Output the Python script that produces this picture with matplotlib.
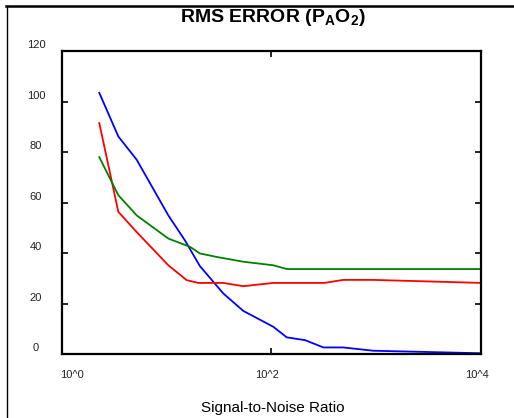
"""RMS error of the PAO2 estimate against signal-to-noise ratio."""

import matplotlib

matplotlib.use("Agg")
import matplotlib.pyplot as plt
from matplotlib.lines import Line2D
from matplotlib.transforms import offset_copy

plt.rcParams["font.family"] = ["Liberation Sans", "DejaVu Sans"]
plt.rcParams["mathtext.fontset"] = "custom"
plt.rcParams["mathtext.rm"] = "Liberation Sans"
plt.rcParams["mathtext.bf"] = "Liberation Sans:bold"

# values
blue_snr = [2.27, 3.45, 5.16, 10.35, 14.9, 20.7, 34.7, 53.8, 104, 140, 209, 313, 485, 933, 10000]
blue_err = [103.6, 86.3, 77.1, 55.0, 45.1, 34.9, 24.0, 17.1, 10.8, 6.6, 5.5, 2.6, 2.6, 1.3, 0.3]

red_snr = [2.27, 3.45, 5.16, 10.35, 15.5, 20.0, 34.7, 53.8, 104, 320, 485, 933, 10000]
red_err = [91.6, 56.4, 48.4, 35.2, 29.3, 28.2, 28.2, 26.9, 28.2, 28.2, 29.4, 29.4, 28.2]

green_snr = [2.27, 3.45, 5.16, 10.35, 16.7, 20.7, 30.0, 53.8, 104, 140, 10000]
green_err = [78.1, 63.0, 55.0, 45.8, 42.5, 39.9, 38.5, 36.6, 35.2, 33.7, 33.7]

x_ticks = [1, 100, 10000]
x_tick_labels = ["10^0", "10^2", "10^4"]
y_ticks = [0, 20, 40, 60, 80, 100, 120]

fig = plt.figure(figsize=(5.14, 4.18), dpi=100)
ax = fig.add_axes([0.1206, 0.1531, 0.8152, 0.7237])

ax.plot(blue_snr, blue_err, color="#0000ff", linewidth=1.3)
ax.plot(red_snr, red_err, color="#ff0000", linewidth=1.3)
ax.plot(green_snr, green_err, color="#008000", linewidth=1.3)

ax.set_xscale("log")
ax.set_xlim(1, 10000)
ax.set_ylim(0, 120)
ax.minorticks_off()

for spine in ax.spines.values():
    spine.set_linewidth(1.6)

ax.set_xticks(x_ticks)
ax.set_yticks(y_ticks)
ax.set_xticklabels([])
ax.set_yticklabels([])
ax.tick_params(direction="in", length=4, width=1.2,
               top=True, right=True, bottom=True, left=True)

# tick labels sit a little off their ticks in the original
x_nudge = [10, -4, -4]
for value, label, dx in zip(x_ticks, x_tick_labels, x_nudge):
    trans = offset_copy(ax.get_xaxis_transform(), fig=fig, x=dx, y=-21, units="dots")
    ax.text(value, 0, label, transform=trans, ha="center", va="center",
            fontsize=8, color="#222222")

for value in y_ticks:
    trans = offset_copy(ax.get_yaxis_transform(), fig=fig, x=-26, y=6, units="dots")
    ax.text(0, value, str(value), transform=trans, ha="center", va="center",
            fontsize=8, color="#222222")

fig.text(273 / 514, 1 - 18 / 418, r"RMS ERROR (P$_{\mathbf{A}}$O$_{\mathbf{2}}$)",
         ha="center", va="center", fontsize=14, fontweight="bold")
fig.text(273 / 514, 1 - 408 / 418, "Signal-to-Noise Ratio",
         ha="center", va="center", fontsize=11)

# page frame lines
fig.add_artist(Line2D([6 / 514, 1], [1 - 6 / 418, 1 - 6 / 418],
                      color="black", linewidth=1.8))
fig.add_artist(Line2D([6.5 / 514, 6.5 / 514], [0, 1 - 6 / 418],
                      color="black", linewidth=1.0))

fig.savefig("out.png", dpi=100)
